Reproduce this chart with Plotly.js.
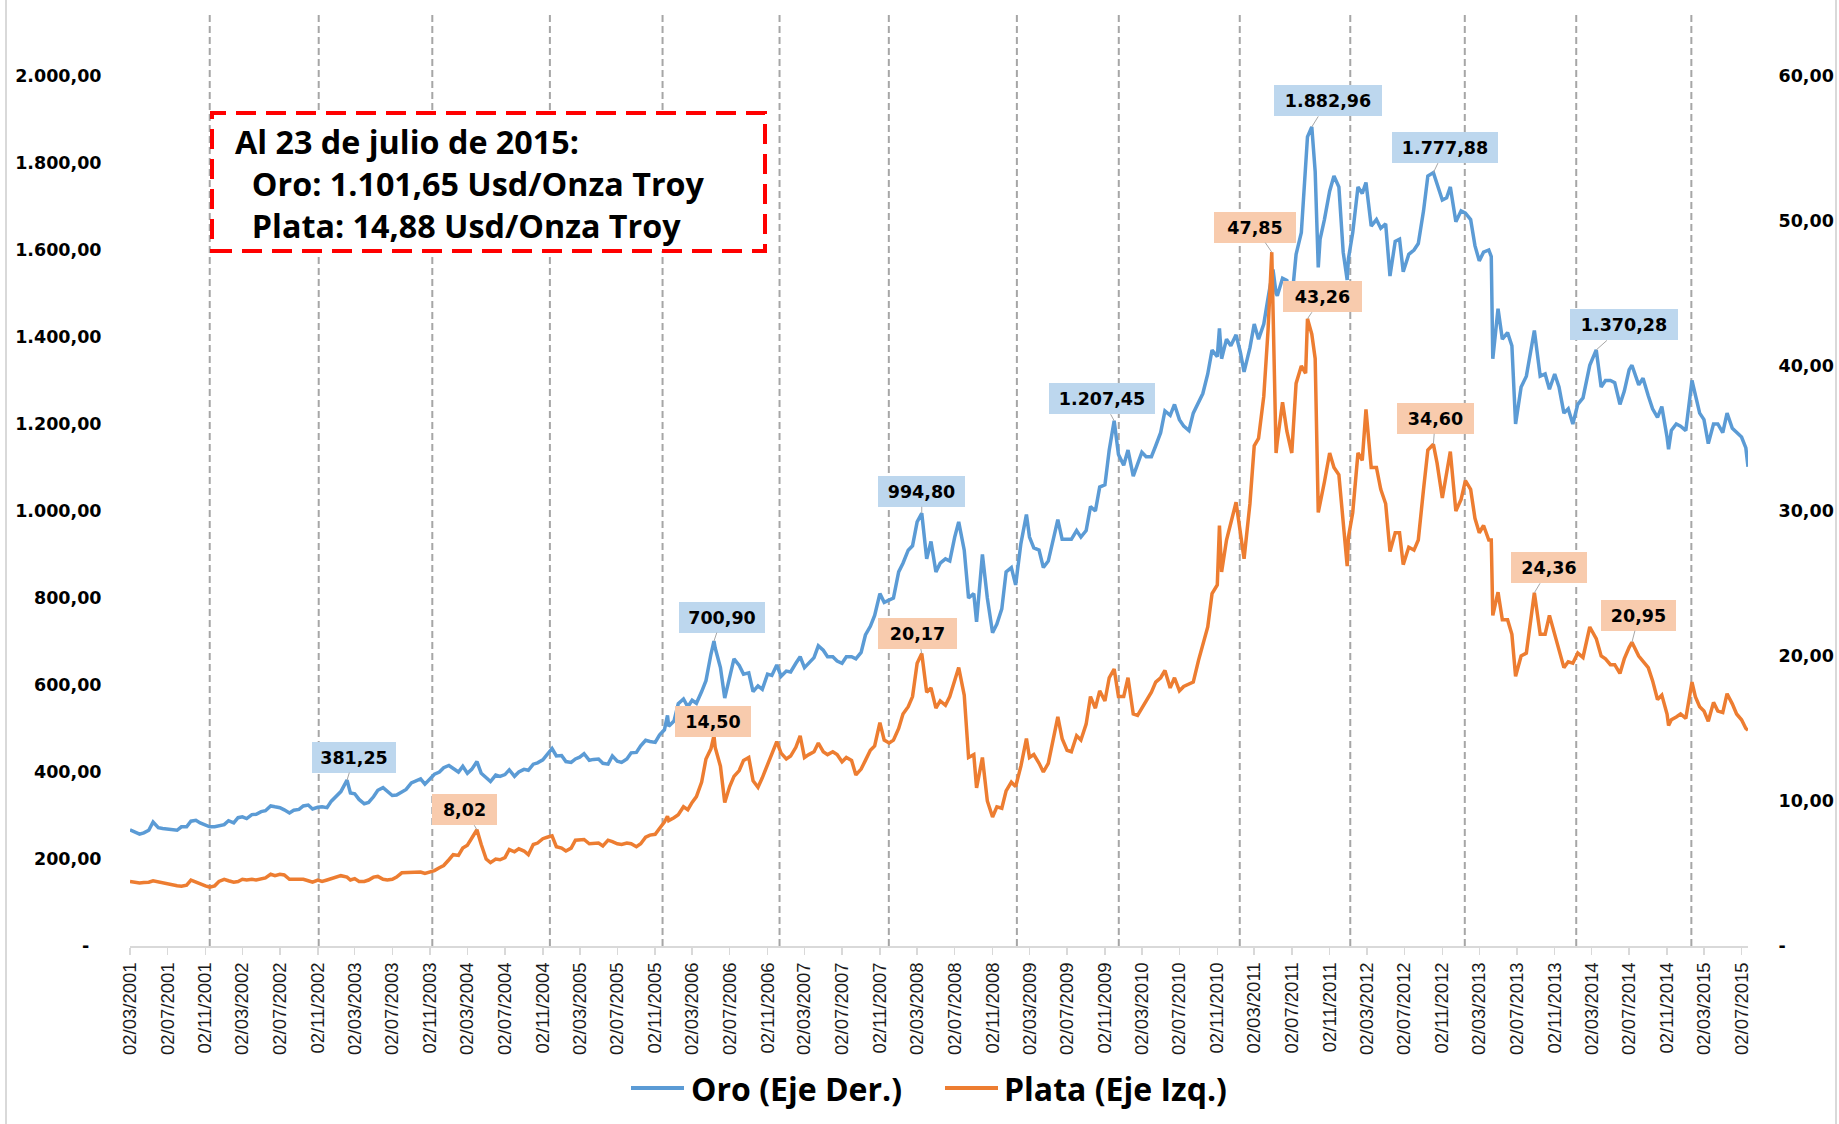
<!DOCTYPE html>
<html>
<head>
<meta charset="utf-8">
<script src="https://cdn.plot.ly/plotly-3.0.1.min.js"></script>
<style>
html,body{margin:0;padding:0;background:#ffffff;}
#chart{width:1839px;height:1124px;}
</style>
</head>
<body>
<div id="chart"></div>
<script>
// ---------------- DATA ----------------
const fechas = [
 "2001-03-02","2001-03-16","2001-04-02","2001-04-16","2001-05-02","2001-05-16","2001-06-02","2001-06-16","2001-07-02","2001-07-16","2001-08-02","2001-08-16","2001-09-02","2001-09-16","2001-10-02","2001-10-16","2001-11-02","2001-11-16","2001-12-02","2001-12-16",
 "2002-01-02","2002-01-16","2002-02-02","2002-02-16","2002-03-02","2002-03-16","2002-04-02","2002-04-16","2002-05-02","2002-05-16","2002-06-02","2002-06-16","2002-07-02","2002-07-16","2002-08-02","2002-08-16","2002-09-02","2002-09-16","2002-10-02","2002-10-16","2002-11-02","2002-11-16","2002-12-02","2002-12-16",
 "2003-01-02","2003-01-16","2003-02-05","2003-02-16","2003-03-02","2003-03-16","2003-04-02","2003-04-16","2003-05-02","2003-05-16","2003-06-02","2003-06-16","2003-07-02","2003-07-16","2003-08-02","2003-08-16","2003-09-02","2003-09-16","2003-10-02","2003-10-16","2003-11-02","2003-11-16","2003-12-02","2003-12-16",
 "2004-01-02","2004-01-16","2004-02-02","2004-02-16","2004-03-02","2004-03-16","2004-04-02","2004-04-16","2004-05-02","2004-05-16","2004-06-02","2004-06-16","2004-07-02","2004-07-16","2004-08-02","2004-08-16","2004-09-02","2004-09-16","2004-10-02","2004-10-16","2004-11-02","2004-11-16","2004-12-02","2004-12-16",
 "2005-01-02","2005-01-16","2005-02-02","2005-02-16","2005-03-02","2005-03-16","2005-04-02","2005-04-16","2005-05-02","2005-05-16","2005-06-02","2005-06-16","2005-07-02","2005-07-16","2005-08-02","2005-08-16","2005-09-02","2005-09-16","2005-10-02","2005-10-16","2005-11-02","2005-11-16","2005-12-02","2005-12-12","2005-12-16",
 "2006-01-02","2006-01-16","2006-02-02","2006-02-16","2006-03-02","2006-03-16","2006-04-02","2006-04-16","2006-05-02","2006-05-12","2006-05-16","2006-06-02","2006-06-16","2006-07-02","2006-07-16","2006-08-02","2006-08-16","2006-09-02","2006-09-16","2006-10-02","2006-10-16","2006-11-02","2006-11-16","2006-12-02","2006-12-16",
 "2007-01-02","2007-01-16","2007-02-02","2007-02-16","2007-03-02","2007-03-16","2007-04-02","2007-04-16","2007-05-02","2007-05-16","2007-06-02","2007-06-16","2007-07-02","2007-07-16","2007-08-02","2007-08-16","2007-09-02","2007-09-16","2007-10-02","2007-10-16","2007-11-02","2007-11-16","2007-12-02","2007-12-16",
 "2008-01-02","2008-01-16","2008-02-02","2008-02-16","2008-03-02","2008-03-17","2008-04-02","2008-04-16","2008-05-02","2008-05-16","2008-06-02","2008-06-16","2008-07-02","2008-07-15","2008-08-02","2008-08-16","2008-09-02","2008-09-11","2008-09-30","2008-10-16","2008-11-02","2008-11-16","2008-12-02","2008-12-16",
 "2009-01-02","2009-01-16","2009-02-02","2009-02-20","2009-03-02","2009-03-16","2009-04-02","2009-04-16","2009-05-02","2009-05-16","2009-06-02","2009-06-16","2009-07-02","2009-07-16","2009-08-02","2009-08-16","2009-09-02","2009-09-16","2009-10-02","2009-10-16","2009-11-02","2009-11-16","2009-12-02","2009-12-16",
 "2010-01-02","2010-01-16","2010-02-02","2010-02-16","2010-03-02","2010-03-16","2010-04-02","2010-04-16","2010-05-02","2010-05-16","2010-06-02","2010-06-16","2010-07-02","2010-07-16","2010-08-02","2010-08-16","2010-09-02","2010-09-16","2010-10-02","2010-10-16","2010-11-02","2010-11-09","2010-11-16","2010-12-02","2010-12-16",
 "2011-01-02","2011-01-16","2011-01-28","2011-02-16","2011-03-02","2011-03-16","2011-04-02","2011-04-16","2011-04-28","2011-05-02","2011-05-12","2011-05-16","2011-06-02","2011-06-16","2011-07-02","2011-07-16","2011-08-02","2011-08-16","2011-08-22","2011-09-05","2011-09-16","2011-09-26","2011-10-02","2011-10-16","2011-11-02","2011-11-16","2011-12-02","2011-12-16","2011-12-29",
 "2012-01-02","2012-01-16","2012-02-02","2012-02-16","2012-02-28","2012-03-16","2012-04-02","2012-04-16","2012-05-02","2012-05-16","2012-06-02","2012-06-16","2012-06-28","2012-07-16","2012-08-02","2012-08-16","2012-09-02","2012-09-16","2012-10-04","2012-10-16","2012-11-02","2012-11-16","2012-11-28","2012-12-16",
 "2013-01-02","2013-01-16","2013-02-02","2013-02-16","2013-03-02","2013-03-16","2013-04-02","2013-04-10","2013-04-15","2013-05-02","2013-05-16","2013-06-02","2013-06-16","2013-06-28","2013-07-16","2013-08-02","2013-08-16","2013-08-28","2013-09-16","2013-10-02","2013-10-16","2013-11-02","2013-11-16","2013-12-02","2013-12-16","2013-12-31",
 "2014-01-16","2014-02-02","2014-02-24","2014-03-17","2014-04-02","2014-04-16","2014-05-02","2014-05-16","2014-06-02","2014-06-16","2014-07-02","2014-07-11","2014-08-02","2014-08-16","2014-09-02","2014-09-16","2014-10-02","2014-10-16","2014-11-02","2014-11-07","2014-11-16","2014-12-02","2014-12-16",
 "2015-01-02","2015-01-22","2015-02-02","2015-02-16","2015-03-02","2015-03-16","2015-04-02","2015-04-16","2015-05-02","2015-05-16","2015-06-02","2015-06-16","2015-07-02","2015-07-16","2015-07-23"
];

const oro = [
 267,263,257,260,266,285,272,270,268,267,266,274,274,287,289,283,278,274,274,276,
 279,288,283,295,297,293,302,303,309,311,322,320,318,313,306,312,314,322,324,315,319,320,318,333,
 345,355,381.25,352,350,337,327,330,343,358,364,356,346,347,355,360,375,380,384,372,385,395,400,410,
 415,408,400,413,397,406,424,397,388,378,393,390,394,405,390,400,406,404,418,421,428,441,454,437,
 438,424,422,430,434,442,427,429,430,420,418,437,425,422,430,444,445,460,473,470,468,485,497,530,505,
 517,557,568,550,565,558,585,610,670,700.90,685,640,570,615,660,645,625,628,585,598,590,625,622,646,620,
 632,630,650,665,640,650,663,690,680,665,665,655,650,665,665,660,675,715,735,760,810,790,795,800,
 860,880,910,920,975,994.80,890,930,860,880,890,885,940,975,910,800,810,745,900,800,720,740,775,860,
 870,830,925,992,940,915,910,870,885,930,980,935,935,935,955,940,955,1010,1000,1055,1060,1140,1207.45,1130,
 1105,1140,1080,1105,1135,1125,1125,1150,1180,1230,1220,1245,1210,1195,1185,1225,1250,1270,1315,1370,1355,1420,1350,1395,1380,
 1405,1365,1320,1375,1430,1395,1430,1490,1535,1555,1500,1495,1535,1530,1485,1590,1640,1785,1860,1882.96,1780,1560,1625,1670,1735,1770,1745,1595,1531,
 1580,1640,1745,1730,1755,1655,1670,1650,1660,1540,1620,1625,1550,1590,1600,1615,1690,1770,1777.88,1750,1715,1720,1745,1665,
 1690,1685,1670,1610,1575,1595,1600,1585,1350,1465,1395,1410,1380,1200,1285,1310,1370,1415,1310,1315,1280,1315,1285,1225,1235,1200,
 1245,1260,1335,1370.28,1285,1300,1300,1295,1245,1275,1325,1335,1290,1305,1265,1235,1215,1240,1170,1142,1185,1200,1195,
 1185,1300,1265,1225,1210,1155,1200,1200,1180,1225,1190,1180,1170,1145,1101.65
];

const plata = [
 4.45,4.40,4.35,4.38,4.40,4.50,4.42,4.35,4.25,4.20,4.15,4.12,4.20,4.55,4.40,4.25,4.15,4.05,4.15,4.45,
 4.60,4.50,4.40,4.45,4.60,4.55,4.60,4.55,4.65,4.70,4.95,4.85,4.95,4.90,4.60,4.60,4.60,4.60,4.50,4.40,4.55,4.45,4.55,4.65,
 4.80,4.85,4.75,4.55,4.65,4.45,4.45,4.55,4.75,4.80,4.60,4.55,4.60,4.75,5.05,5.05,5.10,5.05,5.10,5.00,5.10,5.20,5.40,5.55,
 5.95,6.30,6.25,6.75,6.95,7.45,8.02,7.00,6.00,5.75,6.00,5.95,6.10,6.65,6.50,6.70,6.55,6.30,7.00,7.10,7.40,7.50,7.60,6.85,
 6.75,6.55,6.75,7.30,7.35,7.35,7.05,7.10,7.10,6.90,7.30,7.20,7.05,7.00,7.10,7.05,6.85,7.05,7.50,7.65,7.70,8.10,8.55,8.95,8.65,
 8.85,9.05,9.60,9.40,9.90,10.30,11.30,12.90,13.60,14.50,13.70,12.40,9.90,11.00,11.70,12.10,12.80,13.00,11.40,10.95,11.60,12.50,13.10,14.10,13.30,
 12.90,13.10,13.70,14.50,13.00,13.20,13.40,14.00,13.40,13.20,13.40,13.20,12.70,13.00,12.80,11.80,12.20,12.80,13.50,13.80,15.40,14.20,14.00,14.20,
 15.00,16.00,16.50,17.20,19.50,20.17,17.50,17.80,16.40,16.90,16.60,17.20,18.30,19.20,17.30,13.00,13.20,10.90,13.00,10.00,8.90,9.60,9.50,10.70,
 11.30,11.00,12.40,14.30,13.00,13.20,12.60,12.00,12.60,14.00,15.80,14.30,13.50,13.40,14.50,14.20,15.30,17.20,16.40,17.60,16.90,18.50,19.10,17.20,
 17.20,18.50,16.00,15.90,16.40,17.00,17.50,18.20,18.50,19.00,17.80,18.50,17.60,17.90,18.10,18.20,19.70,20.80,22.00,24.30,24.90,29.00,25.80,28.00,29.20,
 30.60,28.50,26.70,30.50,34.50,35.00,37.90,42.50,47.85,44.00,34.00,34.80,37.50,35.50,34.00,38.80,40.00,39.50,43.26,42.20,40.50,29.90,30.50,32.00,34.00,33.00,32.50,29.50,26.20,
 28.20,29.90,34.00,33.50,37.00,33.00,33.00,31.50,30.50,27.20,28.50,28.50,26.30,27.50,27.30,28.00,31.50,34.20,34.60,33.30,30.90,32.50,34.10,30.00,
 30.80,32.10,31.50,29.50,28.50,29.00,28.00,28.00,22.80,24.40,22.50,22.50,21.50,18.60,20.00,20.20,22.50,24.36,21.50,21.50,22.80,21.50,20.40,19.20,19.60,19.50,
 20.20,19.90,22.00,21.20,20.00,19.80,19.40,19.40,18.80,19.80,20.60,20.95,20.00,19.60,19.20,18.30,17.00,17.30,16.00,15.20,15.60,15.80,16.00,
 15.70,18.20,17.20,16.50,16.20,15.50,16.80,16.20,16.10,17.40,16.70,16.00,15.60,15.00,14.88
];

const nombres = ["Oro (Eje Der.)", "Plata (Eje Izq.)"];

// dates of the labelled points
const etiquetasOro = ["2003-02-05","2006-05-12","2008-03-17","2009-12-02","2011-09-05","2012-10-04","2014-03-17"];
const etiquetasPlata = ["2004-04-02","2006-05-12","2008-03-17","2011-04-28","2011-08-22","2012-10-04","2013-08-28","2014-07-11"];

// dashed vertical reference lines
const lineasVerticales = ["2001-11-16","2002-11-05","2003-11-09","2004-11-25","2005-11-26","2006-12-11","2007-12-01","2009-01-20","2009-12-17","2011-01-14","2012-01-08","2013-01-14","2014-01-11","2015-01-20"];

const cuadroTexto = ["Al 23 de julio de 2015:", "Oro: 1.101,65 Usd/Onza Troy", "Plata: 14,88 Usd/Onza Troy"];

const ticksOro = [0,200,400,600,800,1000,1200,1400,1600,1800,2000];
const ticksPlata = [0,10,20,30,40,50,60];

// ---------------- STYLE ----------------
const COL_ORO = '#5b9bd5', COL_PLATA = '#ed7d31';
const BG_ORO = '#bdd7ee', BG_PLATA = '#f8cbad';
// per-label offsets (px) and box widths
const estiloOro = [[7,-23,84],[8,-24,86],[0,-22,87],[-12,-22,106],[16,-26,108],[12,-25,106],[28,-25,108]];
const estiloPlata = [[-12,-20,65],[-1,-14,76],[-4,-20,79],[-17,-25,82],[15,-22,79],[2,-26,77],[15,-25,76],[7,-27,75]];

const L = 130, R = 1748, T = 76, B = 946, WID = 1839, HEI = 1124;
const PW = R - L, PH = B - T;
const px = x => (x - L) / PW;
const py = y => (B - y) / PH;

function fmtEs(v) {
  const s = v.toFixed(2);
  let [i, d] = s.split('.');
  i = i.replace(/\B(?=(\d{3})+(?!\d))/g, '.');
  return i + ',' + d;
}
const NB = '\u00a0';

// x ticks every 4 months
const tickVals = [], tickText = [];
{
  let y = 2001, m = 3;
  while (y < 2015 || (y === 2015 && m <= 7)) {
    const mm = String(m).padStart(2, '0');
    tickVals.push(`${y}-${mm}-02`);
    tickText.push(`02/${mm}/${y}`);
    m += 4; if (m > 12) { m -= 12; y++; }
  }
}

const yFont = {family: 'DejaVu Sans, Verdana, sans-serif', size: 17.5, color: '#000000', weight: 'bold'};

const traces = [
  {x: fechas, y: oro, type: 'scatter', mode: 'lines', name: nombres[0],
   line: {color: COL_ORO, width: 3.5}, yaxis: 'y', hoverinfo: 'skip'},
  {x: fechas, y: plata, type: 'scatter', mode: 'lines', name: nombres[1],
   line: {color: COL_PLATA, width: 3.5}, yaxis: 'y2', hoverinfo: 'skip'}
];

const shapes = [];
// outer chart border (left/right)
shapes.push({type: 'line', xref: 'paper', yref: 'paper', x0: px(6), x1: px(6), y0: py(HEI), y1: py(0), line: {color: '#d9d9d9', width: 2}, layer: 'below'});
shapes.push({type: 'line', xref: 'paper', yref: 'paper', x0: px(1836), x1: px(1836), y0: py(HEI), y1: py(0), line: {color: '#d9d9d9', width: 2}, layer: 'below'});
// dashed verticals
lineasVerticales.forEach(d => shapes.push({
  type: 'line', xref: 'x', yref: 'paper', x0: d, x1: d, y0: 0, y1: py(14),
  line: {color: '#a6a6a6', width: 2, dash: '7px,4px'}, layer: 'below'
}));
// red dashed text box
shapes.push({type: 'rect', xref: 'paper', yref: 'paper', x0: px(212), x1: px(765), y0: py(251), y1: py(113),
  line: {color: '#ff0000', width: 4, dash: '20px,10px'}, fillcolor: '#ffffff', layer: 'above'});
// legend line samples
shapes.push({type: 'line', xref: 'paper', yref: 'paper', x0: px(631), x1: px(684), y0: py(1088), y1: py(1088), line: {color: COL_ORO, width: 4}});
shapes.push({type: 'line', xref: 'paper', yref: 'paper', x0: px(945), x1: px(998), y0: py(1088), y1: py(1088), line: {color: COL_PLATA, width: 4}});

const annotations = [];
// text box (one multi-line text; lines 2-3 indented)
annotations.push({
  xref: 'paper', yref: 'paper', x: px(233), y: py(183), xanchor: 'left', yanchor: 'middle', align: 'left',
  text: cuadroTexto.map((t, i) => (i === 0 ? '' : NB + NB) + t).join('<br>'),
  showarrow: false, font: {family: 'Open Sans, sans-serif', size: 32.3, color: '#000000', weight: 'bold'}
});
// legend texts
[[689, nombres[0]], [1002, nombres[1]]].forEach(([x, t]) => annotations.push({
  xref: 'paper', yref: 'paper', x: px(x), y: py(1088), xanchor: 'left', yanchor: 'middle',
  text: t, showarrow: false, font: {family: 'Open Sans, sans-serif', size: 32, color: '#000000', weight: 'bold'}
}));
// data labels
function addLabels(dates, serie, yref, bg, estilos) {
  dates.forEach((d, k) => {
    const i = fechas.indexOf(d);
    const [ax, ay, w] = estilos[k];
    annotations.push({
      xref: 'x', yref: yref, x: fechas[i], y: serie[i], text: fmtEs(serie[i]),
      showarrow: true, arrowhead: 0, arrowwidth: 1, arrowcolor: '#a6a6a6', standoff: 0,
      ax: ax, ay: ay, bgcolor: bg, width: w, height: 31, borderpad: 0, borderwidth: 0,
      font: {family: 'DejaVu Sans, Verdana, sans-serif', size: 17.5, color: '#000000', weight: 'bold'}
    });
  });
}
addLabels(etiquetasOro, oro, 'y', BG_ORO, estiloOro);
addLabels(etiquetasPlata, plata, 'y2', BG_PLATA, estiloPlata);

const layout = {
  width: WID, height: HEI,
  margin: {l: L, r: WID - R, t: T, b: HEI - B, pad: 0},
  paper_bgcolor: '#ffffff', plot_bgcolor: 'rgba(0,0,0,0)',
  showlegend: false,
  xaxis: {
    type: 'date', range: [fechas[0], fechas[fechas.length - 1]],
    tickmode: 'array', tickvals: tickVals, ticktext: tickText, tickangle: -90,
    ticks: 'outside', ticklen: 7, tickwidth: 1.5, tickcolor: '#d9d9d9',
    showline: true, linecolor: '#d9d9d9', linewidth: 2,
    showgrid: false, zeroline: false, fixedrange: true,
    tickfont: {family: 'Liberation Sans, Arial, sans-serif', size: 18.5, color: '#1a1a1a'}
  },
  yaxis: {
    range: [0, 2000], tickmode: 'array', tickvals: ticksOro,
    ticktext: ticksOro.map(v => v === 0 ? '-' + NB + NB : fmtEs(v)),
    showgrid: false, zeroline: false, showline: false,
    ticks: 'outside', ticklen: 24, tickcolor: 'rgba(0,0,0,0)', fixedrange: true,
    tickfont: yFont
  },
  yaxis2: {
    overlaying: 'y', side: 'right', anchor: 'x',
    range: [0, 60], tickmode: 'array', tickvals: ticksPlata,
    ticktext: ticksPlata.map(v => v === 0 ? '-' : fmtEs(v)),
    showgrid: false, zeroline: false, showline: false,
    ticks: 'outside', ticklen: 26, tickcolor: 'rgba(0,0,0,0)', fixedrange: true,
    tickfont: yFont
  },
  shapes: shapes,
  annotations: annotations
};

Plotly.newPlot('chart', traces, layout, {displayModeBar: false, staticPlot: true});
</script>
</body>
</html>
